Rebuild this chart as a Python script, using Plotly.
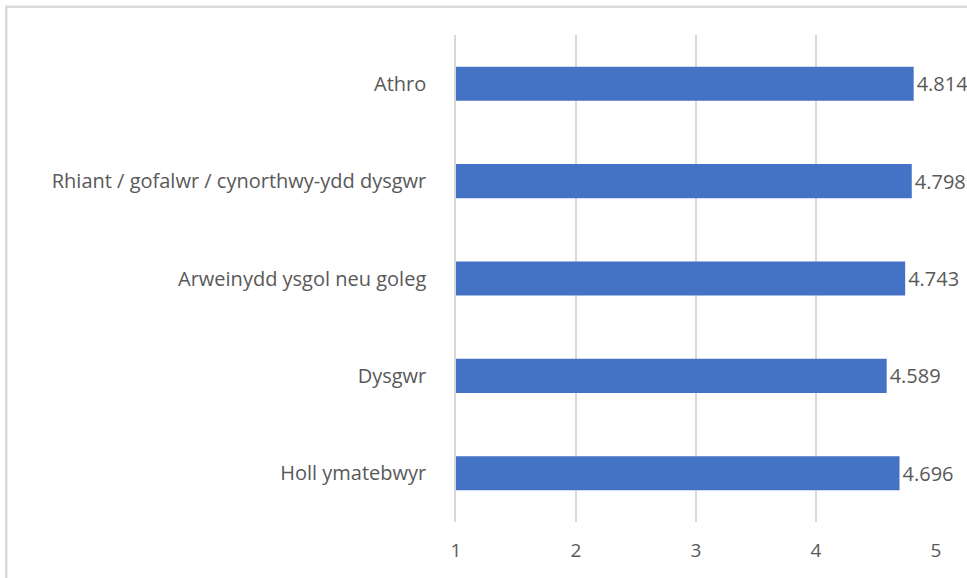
import plotly.graph_objects as go

categories = [
    "Athro",
    "Rhiant / gofalwr / cynorthwy-ydd dysgwr",
    "Arweinydd ysgol neu goleg",
    "Dysgwr",
    "Holl ymatebwyr",
]
scores = [4.814, 4.798, 4.743, 4.589, 4.696]
scale_start = 1
tick_vals = [1, 2, 3, 4, 5]

font_name = "Open Sans, sans-serif"
grey = "#595959"
grid = "#D9D9D9"

fig = go.Figure()
fig.add_trace(go.Bar(
    y=categories,
    x=[s - scale_start for s in scores],
    base=scale_start,
    orientation="h",
    width=0.35,
    marker=dict(color="#4472C4", line=dict(width=0)),
    text=[f"{s:.3f}" for s in scores],
    textposition="outside",
    textfont=dict(size=20, color=grey, family=font_name),
    cliponaxis=False,
))

fig.update_layout(
    width=967,
    height=578,
    margin=dict(l=456, r=31, t=35, b=56),
    paper_bgcolor="white",
    plot_bgcolor="white",
    showlegend=False,
    font=dict(family=font_name, size=20, color=grey),
    xaxis=dict(
        range=[1, 5],
        tickvals=tick_vals,
        showgrid=True,
        gridcolor=grid,
        gridwidth=1.5,
        zeroline=False,
        showline=False,
        ticks="",
        ticklabelstandoff=15,
        tickfont=dict(size=19, color=grey),
    ),
    yaxis=dict(
        autorange="reversed",
        showgrid=False,
        showline=True,
        linecolor=grid,
        linewidth=1.5,
        ticks="",
        ticklabelstandoff=24,
        tickfont=dict(size=20, color=grey),
    ),
    shapes=[dict(
        type="rect", xref="paper", yref="paper",
        x0=-0.937, x1=1.2, y0=-0.3, y1=1.058,
        line=dict(color=grid, width=2.5),
        fillcolor="rgba(0,0,0,0)", layer="below",
    )],
)

# the page's default body margin would push the chart 8px off; remove it
fig.write_html(
    "out.html",
    config={"displayModeBar": False},
    post_script="document.body.style.margin='0';document.body.style.overflow='hidden';",
)
